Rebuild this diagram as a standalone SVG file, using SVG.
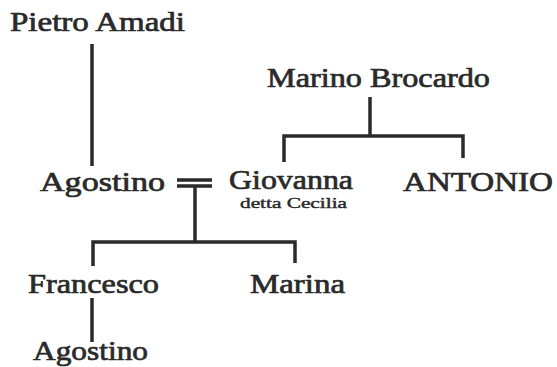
<svg xmlns="http://www.w3.org/2000/svg" width="557" height="367" viewBox="0 0 557 367">
<style>
.n{font-family:"Liberation Serif","Times New Roman",serif;font-size:27px;fill:#2a2a2a;stroke:#2a2a2a;stroke-width:0.7}
.s{font-family:"Liberation Serif","Times New Roman",serif;font-size:14px;fill:#2a2a2a;stroke:#2a2a2a;stroke-width:0.4}
.c{stroke:#2a2a2a;stroke-width:3.5;fill:none}
</style>
<rect width="557" height="367" fill="#fff"/>
<g id="connectors" class="c">
<path d="M92,44V166"/>
<path d="M370,97V136M284,162V136H463V158"/>
<path d="M177,180H212M177,186H212M195,186V242"/>
<path d="M93,266V242H295V263"/>
<path d="M92,298V342"/>
</g>
<g id="pietro"><text class="n" x="10" y="31" textLength="175" lengthAdjust="spacingAndGlyphs">Pietro Amadi</text></g>
<g id="marino"><text class="n" x="267" y="87" textLength="223" lengthAdjust="spacingAndGlyphs">Marino Brocardo</text></g>
<g id="agostino1"><text class="n" x="40" y="191" textLength="125" lengthAdjust="spacingAndGlyphs">Agostino</text></g>
<g id="giovanna"><text class="n" x="229" y="189" font-size="26" textLength="124" lengthAdjust="spacingAndGlyphs">Giovanna</text>
<text class="s" x="240" y="208" textLength="107" lengthAdjust="spacingAndGlyphs">detta Cecilia</text></g>
<g id="antonio"><text class="n" x="403" y="191" textLength="150" lengthAdjust="spacingAndGlyphs">ANTONIO</text></g>
<g id="francesco"><text class="n" x="28" y="293" textLength="131" lengthAdjust="spacingAndGlyphs">Francesco</text></g>
<g id="marina"><text class="n" x="250" y="293" textLength="95" lengthAdjust="spacingAndGlyphs">Marina</text></g>
<g id="agostino2"><text class="n" x="33" y="360" textLength="115" lengthAdjust="spacingAndGlyphs">Agostino</text></g>
</svg>
